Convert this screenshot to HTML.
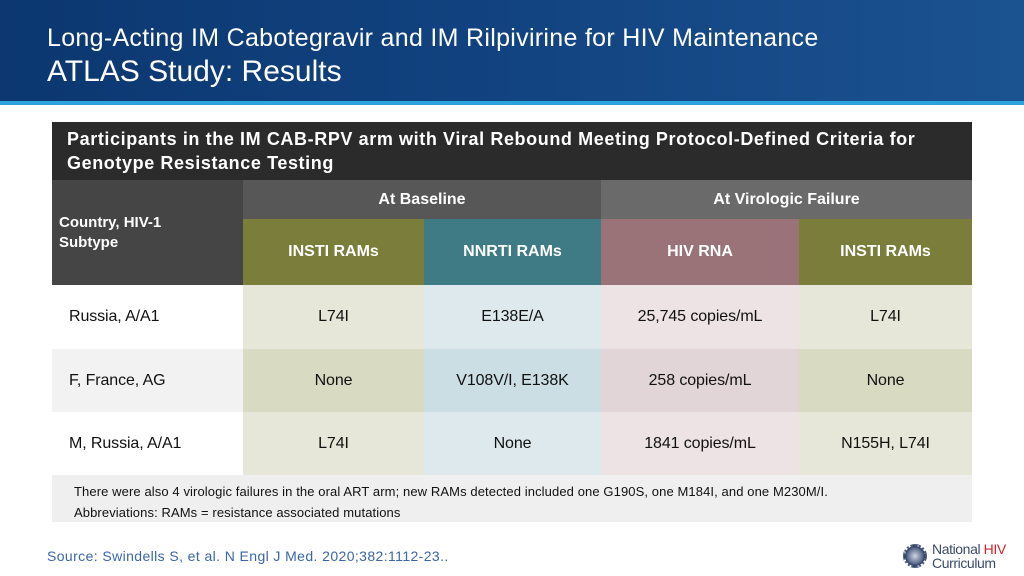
<!DOCTYPE html>
<html><head><meta charset="utf-8"><style>
*{margin:0;padding:0;box-sizing:border-box}
body{width:1024px;height:576px;position:relative;background:#fff;font-family:"Liberation Sans",sans-serif;overflow:hidden}
.hdr{position:absolute;left:0;top:0;width:1024px;height:101px;background:linear-gradient(90deg,#0c3770 0%,#11427f 45%,#1b5290 100%)}
.hl{position:absolute;left:0;top:101px;width:1024px;height:4px;background:#2aa3df}
.t1{position:absolute;left:47px;top:24px;color:#fff;font-size:25px;letter-spacing:0.3px}
.t2{position:absolute;left:47px;top:55px;color:#fff;font-size:30px;letter-spacing:0}
.c{position:absolute;display:flex;align-items:center;justify-content:center;font-size:16px;color:#111;letter-spacing:-0.1px}
.h{color:#fff;font-weight:bold;font-size:16px;letter-spacing:0}
.src{position:absolute;left:47px;top:548px;color:#3a66a8;font-size:14px;letter-spacing:0.4px}
</style></head><body>
<div class="hdr"></div>
<div class="hl"></div>
<div class="t1">Long-Acting IM Cabotegravir and IM Rilpivirine for HIV Maintenance</div>
<div class="t2">ATLAS Study: Results</div>

<div class="c h" style="left:52px;top:122px;width:920px;height:58px;background:#2b2b2b;justify-content:flex-start;padding-left:15px;line-height:24px;font-size:18px;letter-spacing:0.6px">Participants in the IM CAB-RPV arm with Viral Rebound Meeting Protocol-Defined Criteria for<br>Genotype Resistance Testing</div>
<div class="c h" style="left:52px;top:180px;width:191px;height:105px;background:#454545;justify-content:flex-start;align-items:flex-start;padding:33px 0 0 7px;line-height:20px;font-size:15px">Country, HIV-1<br>Subtype</div>
<div class="c h" style="left:243px;top:180px;width:358px;height:40px;background:#575757">At Baseline</div>
<div class="c h" style="left:601px;top:180px;width:371px;height:40px;background:#6a6a6a">At Virologic Failure</div>
<div class="c h" style="left:243px;top:219px;width:181px;height:66px;background:#7a7e3a">INSTI RAMs</div>
<div class="c h" style="left:424px;top:219px;width:177px;height:66px;background:#3f7b85">NNRTI RAMs</div>
<div class="c h" style="left:601px;top:219px;width:198px;height:66px;background:#9a7379">HIV RNA</div>
<div class="c h" style="left:799px;top:219px;width:173px;height:66px;background:#7a7e3a">INSTI RAMs</div>

<div id="rows"></div>
<div class="c" style="left:52px;top:475px;width:920px;height:47px;background:#efefef;display:block;padding:6px 0 0 22px;font-size:13px;line-height:21px;letter-spacing:0.1px">There were also 4 virologic failures in the oral ART arm; new RAMs detected included one G190S, one M184I, and one M230M/I.<br>Abbreviations: RAMs = resistance associated mutations</div>
<div class="src">Source: Swindells S, et al. N Engl J Med. 2020;382:1112-23..</div>
<div style="position:absolute;left:903px;top:542px;width:120px;height:30px">
<div style="position:absolute;left:0;top:2px;width:24px;height:24px;border-radius:50%;background:radial-gradient(circle,#cfd6e6 0%,#5a6a8c 55%,#2c3a5c 70%,transparent 72%);border:2px dotted #4a5a7a"></div>
<div style="position:absolute;left:29px;top:0;font-size:14px;line-height:14px;color:#3b4a6b;letter-spacing:-0.4px">National <span style="color:#d2232a">HIV</span><br>Curriculum</div></div>
<script>
const countries=["Russia, A/A1","F, France, AG","M, Russia, A/A1"];
const baseInsti=["L74I","None","L74I"];
const nnrti=["E138E/A","V108V/I, E138K","None"];
const hivRna=["25,745 copies/mL","258 copies/mL","1841 copies/mL"];
const failInsti=["L74I","None","N155H, L74I"];
const cols=[[52,191],[243,181],[424,177],[601,198],[799,173]];
const bg=[["#ffffff","#e7e7d9","#dde9ed","#ede3e4","#e7e7d9"],["#f2f2f2","#d9dac2","#cbdee3","#e1d5d7","#d9dac2"]];
const names=["country","baseline-insti","nnrti","hiv-rna","failure-insti"];
const tops=[285,349,412],hs=[64,63,63];
const R=document.getElementById('rows');
countries.forEach((c,i)=>{
 const vals=[c,baseInsti[i],nnrti[i],hivRna[i],failInsti[i]];
 vals.forEach((v,j)=>{
  const d=document.createElement('div');
  d.className='c';
  
  
  d.style.cssText=`left:${cols[j][0]}px;top:${tops[i]}px;width:${cols[j][1]}px;height:${hs[i]}px;background:${bg[i%2][j]};`+(j==0?'justify-content:flex-start;padding-left:17px;':'');
  d.textContent=v;R.appendChild(d);
 });
});
</script>
</body></html>
